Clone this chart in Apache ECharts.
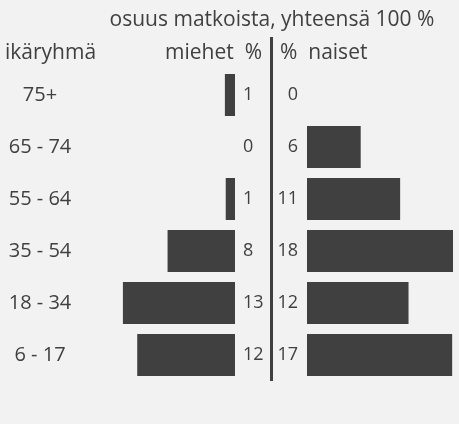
<!DOCTYPE html>
<html>
<head>
<meta charset="utf-8">
<script src="https://cdn.jsdelivr.net/npm/echarts@6/dist/echarts.min.js"></script>
<style>
  html, body { margin: 0; padding: 0; background: #f2f2f2; }
  #chart { width: 459px; height: 424px; }
</style>
</head>
<body>
<div id="chart"></div>
<script>
// ikäryhmät ylhäältä alas
const ageGroups = ['75+', '65 - 74', '55 - 64', '35 - 54', '18 - 34', '6 - 17'];
// osuus matkoista % (luettu palkkien pituuksista)
const menShare = [1.2, 0, 1.1, 8, 13.3, 11.6];
const womenShare = [0, 6.4, 11.1, 18, 12.1, 17.3];

const dark = '#404040';
const font = 'Open Sans';

const chart = echarts.init(document.getElementById('chart'));

const head = { fontSize: 21, fontWeight: 'normal', color: dark, fontFamily: font };

const option = {
    backgroundColor: '#f2f2f2',
    animation: false,
    textStyle: { fontFamily: font, color: dark },
    title: [
        { text: 'osuus matkoista, yhteensä 100 %', left: 267, top: 5, textAlign: 'center', textStyle: head },
        { text: 'ikäryhmä', left: 0, top: 38, textStyle: head },
        { text: 'miehet  %', left: 257, top: 38, textAlign: 'right', textStyle: head },
        { text: '%  naiset', left: 275, top: 38, textStyle: head }
    ],
    grid: [
        { left: 117, right: 224, top: 69, bottom: 43 },   // miehet
        { left: 307, right: 6, top: 69, bottom: 43 }      // naiset
    ],
    xAxis: [
        { gridIndex: 0, type: 'value', min: 0, max: 14, inverse: true, show: false },
        { gridIndex: 1, type: 'value', min: 0, max: 17.4, show: false }
    ],
    yAxis: [
        {
            gridIndex: 0, type: 'category', data: ageGroups, inverse: true,
            axisLine: { show: false }, axisTick: { show: false }, splitLine: { show: false },
            axisLabel: { align: 'center', margin: 77, fontSize: 20, color: dark, fontFamily: font }
        },
        {
            gridIndex: 1, type: 'category', data: ageGroups, inverse: true, show: false
        }
    ],
    series: [
        {
            name: 'miehet', type: 'bar', xAxisIndex: 0, yAxisIndex: 0,
            data: menShare, barWidth: 42, itemStyle: { color: dark },
            label: {
                show: true, position: 'right', distance: 8, fontSize: 18, color: dark, fontFamily: font,
                formatter: p => Math.round(p.value)
            }
        },
        {
            name: 'naiset', type: 'bar', xAxisIndex: 1, yAxisIndex: 1,
            data: womenShare, barWidth: 42, itemStyle: { color: dark },
            label: {
                show: true, position: 'left', distance: 9, fontSize: 18, color: dark, fontFamily: font,
                formatter: p => Math.round(p.value)
            }
        }
    ],
    // keskiviiva
    graphic: [
        { type: 'line', shape: { x1: 271.5, y1: 37, x2: 271.5, y2: 381 },
          style: { stroke: dark, lineWidth: 3 } }
    ]
};

chart.setOption(option);
</script>
</body>
</html>
